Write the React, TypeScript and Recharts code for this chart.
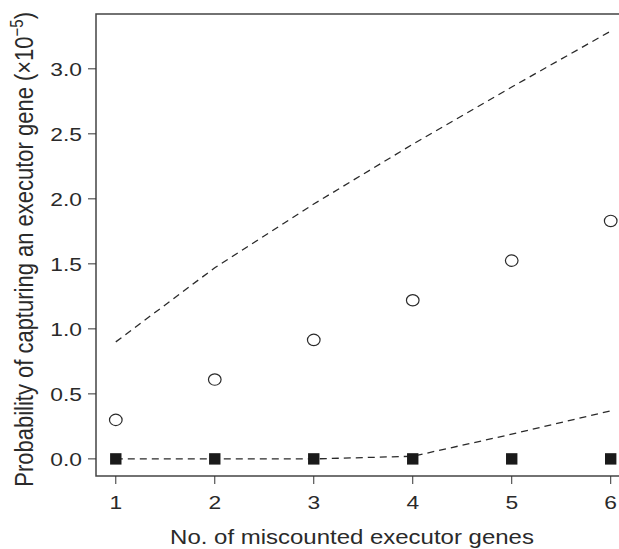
import React from "react";
import { ComposedChart, Line, XAxis, YAxis, ReferenceArea, Label } from "recharts";

const geneCounts = [1, 2, 3, 4, 5, 6];
const observedProbability = [0.3, 0.61, 0.915, 1.22, 1.525, 1.83];
const upperBound = [0.9, 1.47, 1.96, 2.42, 2.86, 3.29];
const lowerBound = [0, 0, 0, 0.02, 0.19, 0.37];
const zeroObserved = [0, 0, 0, 0, 0, 0];
const xTicks = [1, 2, 3, 4, 5, 6];
const yTicks = [0, 0.5, 1, 1.5, 2, 2.5, 3];

const X_MIN = 0.8;
const X_MAX = 6.2;
const Y_MIN = -0.1316;
const Y_MAX = 3.4216;

const data = geneCounts.map((x, i) => ({
  x,
  observed: observedProbability[i],
  upper: upperBound[i],
  lower: lowerBound[i],
  zero: zeroObserved[i],
}));

const FONT = "'Liberation Sans', Arial, Helvetica, sans-serif";
const INK = "#2a2a2a";

const YTick = (props: any) => {
  const { x, y, payload } = props;
  return (
    <text
      transform={`translate(${x},${y}) scale(1.2,1)`}
      textAnchor="end"
      dy="0.355em"
      fontFamily={FONT}
      fontSize={19}
      fill={INK}
    >
      {Number(payload.value).toFixed(1)}
    </text>
  );
};

const XTick = (props: any) => {
  const { x, y, payload } = props;
  return (
    <text
      transform={`translate(${x},${y}) scale(1.2,1)`}
      textAnchor="middle"
      dy="0.71em"
      fontFamily={FONT}
      fontSize={19}
      fill={INK}
    >
      {payload.value}
    </text>
  );
};

const XTitle = () => (
  <g transform="translate(352,544) scale(1.23,1)">
    <text x={0} y={0} textAnchor="middle" fontFamily={FONT} fontSize={19.5} fill={INK}>
      No. of miscounted executor genes
    </text>
  </g>
);

const YTitle = () => (
  <g transform="translate(33,12) scale(1.2,1) rotate(-90)">
    <text x={0} y={0} textAnchor="end" fontFamily={FONT} fontSize={22} fill={INK}>
      Probability of capturing an executor gene (×10
      <tspan fontSize={15} dy={-8}>−5</tspan>
      <tspan dy={8}>)</tspan>
    </text>
  </g>
);

const OpenCircle = (p: any) => {
  if (p.cx == null || p.cy == null) return <g key={`oc-${p.index}`} />;
  return (
    <ellipse
      key={`oc-${p.index}`}
      cx={p.cx}
      cy={p.cy}
      rx={6.3}
      ry={5.7}
      fill="#fff"
      stroke={INK}
      strokeWidth={1.2}
    />
  );
};

const FilledSquare = (p: any) => {
  if (p.cx == null || p.cy == null) return <g key={`fs-${p.index}`} />;
  return (
    <rect
      key={`fs-${p.index}`}
      x={p.cx - 5.7}
      y={p.cy - 5.7}
      width={11.4}
      height={11.4}
      fill="#1a1a1a"
    />
  );
};

export default function App() {
  return (
    <div
      style={{
        position: "absolute",
        left: 0,
        top: 0,
        width: 619,
        height: 549,
        overflow: "hidden",
        background: "#fff",
      }}
    >
      <ComposedChart
        width={660}
        height={549}
        data={data}
        margin={{ top: 14, right: 29.5, bottom: 0, left: 0 }}
      >
        <XAxis
          dataKey="x"
          type="number"
          domain={[X_MIN, X_MAX]}
          ticks={xTicks}
          allowDataOverflow
          axisLine={false}
          tickLine={{ stroke: "#333", strokeWidth: 1 }}
          tickSize={8}
          tickMargin={12}
          tick={<XTick />}
          height={73}
        >
          <Label content={<XTitle />} />
        </XAxis>
        <YAxis
          type="number"
          domain={[Y_MIN, Y_MAX]}
          ticks={yTicks}
          allowDataOverflow
          axisLine={false}
          tickLine={{ stroke: "#333", strokeWidth: 1 }}
          tickSize={8}
          tickMargin={6}
          tick={<YTick />}
          width={96}
        >
          <Label content={<YTitle />} />
        </YAxis>
        <ReferenceArea
          x1={X_MIN}
          x2={X_MAX}
          y1={Y_MIN}
          y2={Y_MAX}
          fill="none"
          stroke="#444"
          strokeWidth={1.5}
          ifOverflow="visible"
        />
        <Line
          dataKey="upper"
          type="linear"
          stroke={INK}
          strokeWidth={1.3}
          strokeDasharray="7 5"
          dot={false}
          activeDot={false}
          isAnimationActive={false}
        />
        <Line
          dataKey="lower"
          type="linear"
          stroke={INK}
          strokeWidth={1.3}
          strokeDasharray="7 5"
          dot={false}
          activeDot={false}
          isAnimationActive={false}
        />
        <Line
          dataKey="observed"
          stroke="none"
          dot={OpenCircle}
          activeDot={false}
          isAnimationActive={false}
        />
        <Line
          dataKey="zero"
          stroke="none"
          dot={FilledSquare}
          activeDot={false}
          isAnimationActive={false}
        />
      </ComposedChart>
    </div>
  );
}
